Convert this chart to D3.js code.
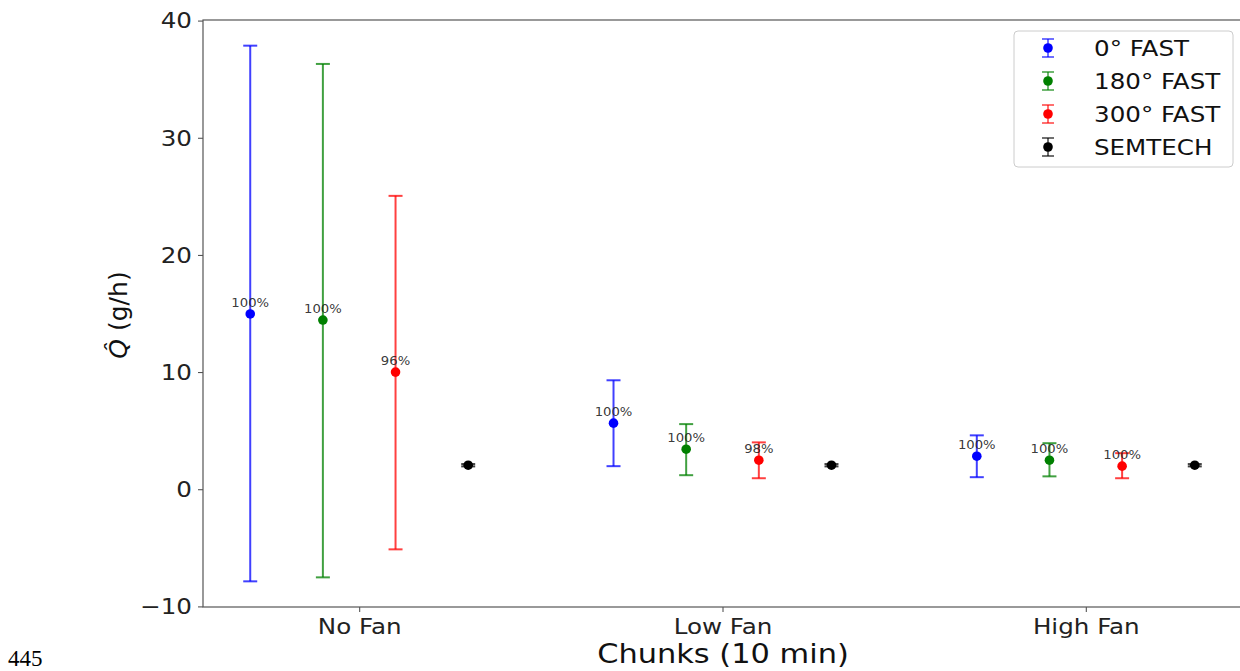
<!DOCTYPE html>
<html><head><meta charset="utf-8">
<script src="https://cdn.jsdelivr.net/npm/d3@7"></script>
<style>body{margin:0;background:#fff}svg{display:block}</style>
</head><body>
<svg id="c" width="1240" height="671"></svg>
<script>
const categories = ["No Fan", "Low Fan", "High Fan"];
const seriesNames = ["0° FAST", "180° FAST", "300° FAST", "SEMTECH"];
const seriesColors = ["#0000ff", "#008000", "#ff0000", "#000000"];
const offsets = [-0.3, -0.1, 0.1, 0.3];
// mean, low, high per category
const fast0Mean = [14.96, 5.64, 2.82];
const fast0Low = [-7.86, 1.97, 1.03];
const fast0High = [37.86, 9.3, 4.6];
const fast180Mean = [14.44, 3.42, 2.48];
const fast180Low = [-7.52, 1.2, 1.1];
const fast180High = [36.3, 5.56, 3.93];
const fast300Mean = [10.0, 2.48, 1.97];
const fast300Low = [-5.13, 0.94, 0.94];
const fast300High = [25.04, 4.0, 3.08];
const semMean = [2.05, 2.05, 2.05];
const semLow = [1.95, 1.95, 1.95];
const semHigh = [2.15, 2.15, 2.15];
const pctLabels = [["100%", "100%", "96%"], ["100%", "100%", "98%"], ["100%", "100%", "100%"]];
const yTicks = [-10, 0, 10, 20, 30, 40];

const series = [
  {mean: fast0Mean, low: fast0Low, high: fast0High},
  {mean: fast180Mean, low: fast180Low, high: fast180High},
  {mean: fast300Mean, low: fast300Low, high: fast300High},
  {mean: semMean, low: semLow, high: semHigh}
];

const svg = d3.select("#c");
const L = 203, R = 1242, T = 20, B = 607;
const x = d3.scaleLinear().domain([-0.43, 2.43]).range([L, R]);
const y = d3.scaleLinear().domain([-10.05, 40.05]).range([B, T]);
const font = "DejaVu Sans, sans-serif";
const K = 1.17;
function stretch(sel, k) {
  sel.each(function () {
    const l = this.getComputedTextLength();
    d3.select(this).attr("textLength", l * k).attr("lengthAdjust", "spacingAndGlyphs");
  });
}

// y axis
const ya = svg.append("g").attr("transform", `translate(${L},0)`)
  .call(d3.axisLeft(y).tickValues(yTicks).tickSize(5).tickPadding(6).tickFormat(d => d < 0 ? "\u2212" + Math.abs(d) : d));
ya.selectAll("text").attr("font-family", font).attr("font-size", 21).attr("fill", "#222").attr("dy", "0.35em");
ya.select(".domain").remove();
ya.selectAll("line").attr("stroke", "#444");
stretch(ya.selectAll("text"), K);

// x axis
const xa = svg.append("g").attr("transform", `translate(0,${B})`)
  .call(d3.axisBottom(x).tickValues([0, 1, 2]).tickSize(5).tickPadding(7).tickFormat(i => categories[i]));
xa.selectAll("text").attr("font-family", font).attr("font-size", 21).attr("fill", "#222");
xa.select(".domain").remove();
xa.selectAll("line").attr("stroke", "#444");
stretch(xa.selectAll("text"), K);

// frame
svg.append("rect").attr("x", L).attr("y", T).attr("width", R - L).attr("height", B - T)
  .attr("fill", "none").attr("stroke", "#555").attr("stroke-width", 1.2);

// data
series.forEach((s, si) => {
  const g = svg.append("g");
  categories.forEach((c, ci) => {
    const px = x(ci + offsets[si]);
    const col = seriesColors[si];
    g.append("line").attr("x1", px).attr("x2", px).attr("y1", y(s.low[ci])).attr("y2", y(s.high[ci]))
      .attr("stroke", col).attr("stroke-width", 2).attr("stroke-opacity", 0.75);
    [s.low[ci], s.high[ci]].forEach(v => {
      g.append("line").attr("x1", px - 7).attr("x2", px + 7).attr("y1", y(v)).attr("y2", y(v))
        .attr("stroke", col).attr("stroke-width", 2).attr("stroke-opacity", 0.75);
    });
    g.append("circle").attr("cx", px).attr("cy", y(s.mean[ci])).attr("r", 4.8).attr("fill", col);
    if (si < 3) {
      const t = g.append("text").attr("x", px).attr("y", y(s.mean[ci]) - 7).attr("text-anchor", "middle")
        .attr("font-family", font).attr("font-size", 12).attr("fill", "#222").attr("fill-opacity", 0.9)
        .text(pctLabels[ci][si]);
      stretch(t, 1.1);
    }
  });
});

// axis labels
const xl = svg.append("text").attr("x", 723).attr("y", 663).attr("text-anchor", "middle")
  .attr("font-family", font).attr("font-size", 26).attr("fill", "#111").text("Chunks (10 min)");
stretch(xl, K);
const yl = svg.append("text").attr("transform", "translate(127,315) rotate(-90)").attr("text-anchor", "middle")
  .attr("font-family", font).attr("font-size", 25).attr("fill", "#111");
yl.append("tspan").attr("font-style", "italic").text("Q\u0302");
yl.append("tspan").text(" (g/h)");

// legend
const lg = svg.append("g");
lg.append("rect").attr("x", 1014).attr("y", 31).attr("width", 219).attr("height", 136).attr("rx", 4)
  .attr("fill", "#fff").attr("fill-opacity", 0.8).attr("stroke", "#ccc").attr("stroke-width", 1);
seriesNames.forEach((n, i) => {
  const cy = 48 + i * 33;
  const col = seriesColors[i];
  lg.append("line").attr("x1", 1048).attr("x2", 1048).attr("y1", cy - 9).attr("y2", cy + 9)
    .attr("stroke", col).attr("stroke-width", 1.5).attr("stroke-opacity", 0.75);
  [cy - 9, cy + 9].forEach(v => lg.append("line").attr("x1", 1042).attr("x2", 1054).attr("y1", v).attr("y2", v)
    .attr("stroke", col).attr("stroke-width", 1.5).attr("stroke-opacity", 0.75));
  lg.append("circle").attr("cx", 1048).attr("cy", cy).attr("r", 4.8).attr("fill", col);
  const t = lg.append("text").attr("x", 1094).attr("y", cy + 7.5).attr("font-family", font).attr("font-size", 21)
    .attr("fill", "#111").text(n);
  stretch(t, K);
});

// page number
svg.append("text").attr("x", 8).attr("y", 666).attr("font-family", "Liberation Serif, serif")
  .attr("font-size", 23).attr("fill", "#000").text("445");
</script>
</body></html>
